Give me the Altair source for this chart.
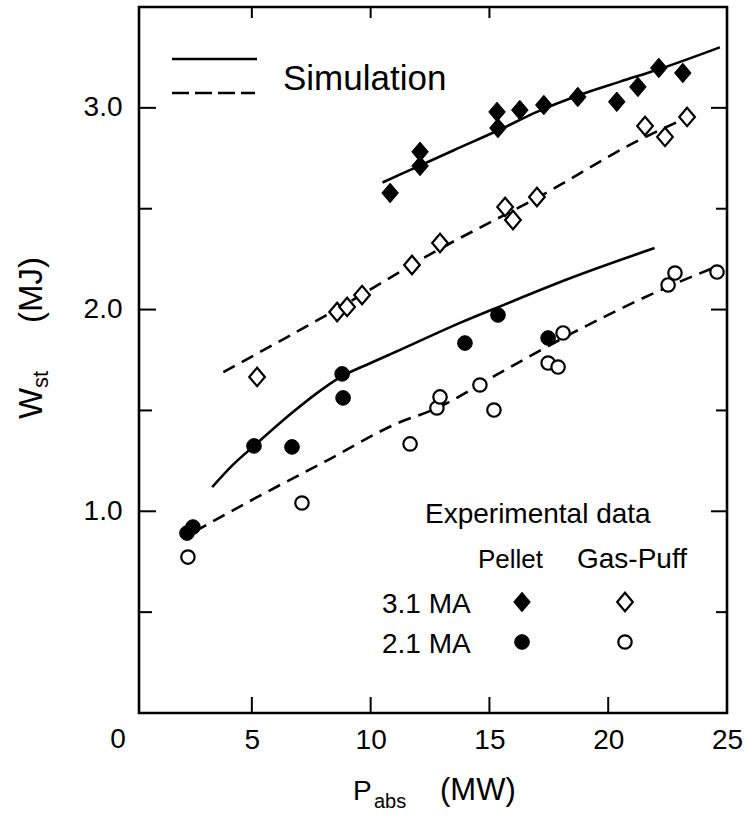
import altair as alt
import pandas as pd

# ---------------- data ----------------
# Experimental data, 3.1 MA, pellet (filled diamonds)
pel31_x = [10.82, 12.08, 12.08, 15.32, 15.36, 16.28, 17.29, 18.72, 20.36, 21.25, 22.13, 23.14]
pel31_y = [2.578, 2.782, 2.712, 2.980, 2.900, 2.989, 3.014, 3.054, 3.030, 3.104, 3.198, 3.173]
# 3.1 MA, gas-puff (open diamonds)
gas31_x = [5.22, 8.59, 9.01, 9.64, 11.74, 12.92, 15.66, 15.99, 17.00, 21.55, 22.39, 23.32]
gas31_y = [1.666, 1.988, 2.013, 2.072, 2.221, 2.330, 2.509, 2.444, 2.558, 2.910, 2.856, 2.955]
# 2.1 MA, pellet (filled circles)
pel21_x = [2.27, 2.52, 5.09, 6.69, 8.80, 8.84, 13.97, 15.36, 17.47]
pel21_y = [0.892, 0.922, 1.324, 1.319, 1.681, 1.562, 1.834, 1.973, 1.859]
# 2.1 MA, gas-puff (open circles)
gas21_x = [2.31, 7.11, 11.66, 12.79, 12.92, 14.60, 15.19, 17.47, 17.89, 18.10, 22.52, 22.81, 24.58]
gas21_y = [0.773, 1.041, 1.334, 1.512, 1.567, 1.626, 1.502, 1.735, 1.715, 1.884, 2.122, 2.181, 2.186]

# Simulation curves
sim_pel31_x = [10.5, 12.0, 13.5, 15.4, 17.0, 18.7, 20.5, 22.1, 24.7]
sim_pel31_y = [2.63, 2.71, 2.79, 2.89, 2.98, 3.06, 3.13, 3.19, 3.30]
sim_gas31_x = [3.8, 8.4, 12.9, 17.1, 21.3, 23.1]
sim_gas31_y = [1.69, 1.99, 2.30, 2.56, 2.84, 2.94]
sim_pel21_x = [3.33, 4.2, 5.09, 6.73, 7.74, 8.71, 10.0, 11.24, 13.76, 15.45, 18.5, 21.95]
sim_pel21_y = [1.12, 1.23, 1.324, 1.492, 1.586, 1.664, 1.735, 1.80, 1.934, 2.016, 2.16, 2.305]
sim_gas21_x = [2.6, 5.0, 8.2, 11.2, 12.6, 15.5, 18.5, 22.5, 24.6]
sim_gas21_y = [0.90, 1.056, 1.254, 1.44, 1.502, 1.69, 1.884, 2.112, 2.215]

# Axis ticks / labels
x_label_values = [5, 10, 15, 20, 25]
x_zero_label = ["0"]
y_label_values = [1, 2, 3]
x_ticks_bottom = [5, 10, 15, 20]
x_ticks_top = [5, 10, 15]
y_ticks_major = [1, 2, 3]
y_ticks_minor = [0.5, 1.5, 2.5]

# Annotation texts
legend_sim = "Simulation"
legend_exp = "Experimental data"
legend_cols = ["Pellet", "Gas-Puff"]
legend_rows = ["3.1 MA", "2.1 MA"]

# ---------------- chart ----------------
W, H = 588, 706
FONT = "Liberation Sans, Arial, Helvetica, sans-serif"
xscale = alt.Scale(domain=[0.25, 25], nice=False, zero=False)
yscale = alt.Scale(domain=[0, 3.5], nice=False, zero=False)
DIAMOND = "M-0.85,0L0,-1L0.85,0L0,1Z"

x_axis = alt.Axis(values=x_label_values, ticks=False, domain=False, grid=False,
                  labelFontSize=28, labelFont=FONT, labelColor="black", labelPadding=13,
                  labelFlush=False, title=None)
y_axis = alt.Axis(values=y_label_values, format=".1f", ticks=False, domain=False,
                  grid=False, labelFontSize=28, labelFont=FONT, labelColor="black",
                  labelPadding=17, labelFlush=False, title=None)


def df(xs, ys):
    return pd.DataFrame({"x": xs, "y": ys})


def X():
    return alt.X("x:Q", scale=xscale, axis=x_axis)


def Y():
    return alt.Y("y:Q", scale=yscale, axis=y_axis)


def line(xs, ys, dash=None):
    kw = dict(color="black", strokeWidth=2.6, interpolate="monotone")
    if dash:
        kw["strokeDash"] = dash
    return alt.Chart(df(xs, ys)).mark_line(**kw).encode(x=X(), y=Y())


DASH = [13, 8]
layers = [
    line(sim_pel31_x, sim_pel31_y),
    line(sim_gas31_x, sim_gas31_y, DASH),
    line(sim_pel21_x, sim_pel21_y),
    line(sim_gas21_x, sim_gas21_y, DASH),
]

# data points
layers += [
    alt.Chart(df(gas31_x, gas31_y)).mark_point(shape=DIAMOND, size=340, filled=True, fill="white",
                                              stroke="black", strokeWidth=2.2, opacity=1).encode(x=X(), y=Y()),
    alt.Chart(df(pel31_x, pel31_y)).mark_point(shape=DIAMOND, size=380, filled=True, fill="black",
                                              stroke="black", strokeWidth=1, opacity=1).encode(x=X(), y=Y()),
    alt.Chart(df(gas21_x, gas21_y)).mark_point(shape="circle", size=180, filled=True, fill="white",
                                              stroke="black", strokeWidth=2.2, opacity=1).encode(x=X(), y=Y()),
    alt.Chart(df(pel21_x, pel21_y)).mark_point(shape="circle", size=215, filled=True, fill="black",
                                              stroke="black", strokeWidth=1, opacity=1).encode(x=X(), y=Y()),
]


# inward ticks
def xticks(vals, y0, y1):
    return alt.Chart(pd.DataFrame({"x": vals})).mark_rule(color="black", strokeWidth=2).encode(
        x=X(), y=alt.value(y0), y2=alt.value(y1))


def yticks(vals, x0, x1):
    return alt.Chart(pd.DataFrame({"y": vals})).mark_rule(color="black", strokeWidth=2).encode(
        y=Y(), x=alt.value(x0), x2=alt.value(x1))


layers += [
    xticks(x_ticks_bottom, H, H - 16),
    xticks(x_ticks_top, 0, 11),
    yticks(y_ticks_major, 0, 17),
    yticks(y_ticks_minor, 0, 13),
    yticks(y_ticks_major, W, W - 16),
    yticks(y_ticks_minor, W, W - 11),
]

# "0" label at the origin corner
layers.append(
    alt.Chart(pd.DataFrame({"x": [0], "t": x_zero_label})).mark_text(
        font=FONT, fontSize=28, color="black", align="center", baseline="top", dx=-15
    ).encode(x=X(), y=alt.value(H + 13), text="t:N")
)


def text(t, x, y, size, align="left", baseline="alphabetic", angle=None):
    kw = dict(font=FONT, fontSize=size, color="black", align=align, baseline=baseline)
    if angle is not None:
        kw["angle"] = angle
    return alt.Chart(pd.DataFrame({"t": [t]})).mark_text(**kw).encode(
        x=alt.value(x), y=alt.value(y), text="t:N")


# axis titles with subscripts
layers += [
    text("P", 214, 793, 28),
    text("abs", 235, 801, 20),
    text("(MW)", 301, 793, 31),
    text("W", -97, 412, 33, angle=270),
    text("st", -91, 381, 22, angle=270),
    text("(MJ)", -97, 316, 33, angle=270),
]

# simulation key
layers += [
    alt.Chart(pd.DataFrame({"k": [0]})).mark_rule(color="black", strokeWidth=2.6).encode(
        x=alt.value(33), x2=alt.value(118), y=alt.value(52)),
    alt.Chart(pd.DataFrame({"k": [0]})).mark_rule(color="black", strokeWidth=2.6, strokeDash=[17, 6]).encode(
        x=alt.value(33), x2=alt.value(116), y=alt.value(86)),
    text(legend_sim, 144, 83, 35),
]

# experimental data key
layers += [
    text(legend_exp, 286, 516, 28),
    text(legend_cols[0], 339, 561, 26),
    text(legend_cols[1], 438, 561, 28),
    text(legend_rows[0], 243, 606, 28),
    text(legend_rows[1], 243, 646, 28),
]


def key_sym(x, y, shape, size, fill, sw):
    return alt.Chart(pd.DataFrame({"k": [0]})).mark_point(
        shape=shape, size=size, filled=True, fill=fill, stroke="black", strokeWidth=sw, opacity=1
    ).encode(x=alt.value(x), y=alt.value(y))


layers += [
    key_sym(383, 595, DIAMOND, 380, "black", 1),
    key_sym(486, 595, DIAMOND, 340, "white", 2.2),
    key_sym(383, 635, "circle", 215, "black", 1),
    key_sym(486, 635, "circle", 180, "white", 2.2),
]

chart = alt.layer(*layers).properties(
    width=W, height=H,
    autosize=alt.AutoSizeParams(type="none"),
    padding={"left": 139, "top": 7, "right": 18, "bottom": 108},
    background="white",
).configure_view(stroke="black", strokeWidth=2.6)

chart.save("out.html", embed_options={"renderer": "svg", "actions": False})
